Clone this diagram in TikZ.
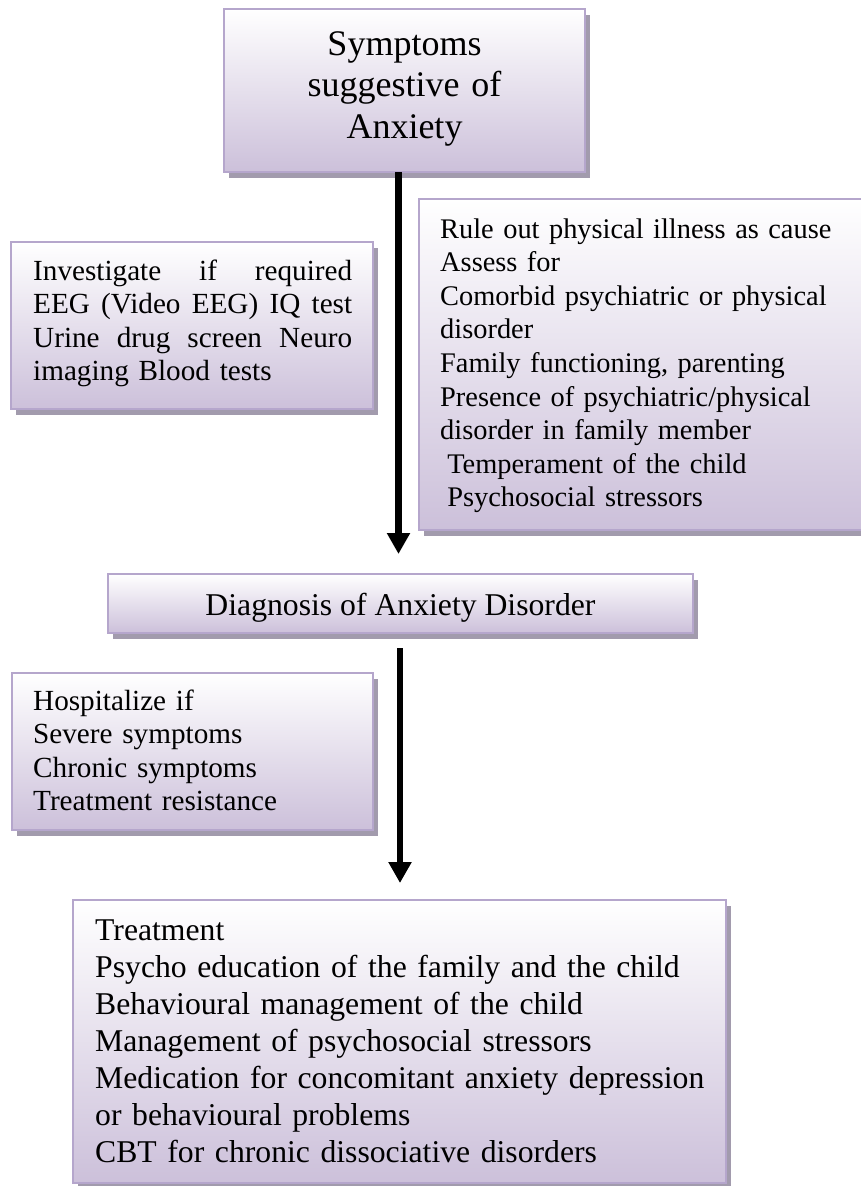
\documentclass[tikz,border=0pt]{standalone}
\usepackage{fontspec}
\setmainfont{Liberation Serif}
\usetikzlibrary{arrows.meta,shadows}
\definecolor{boxline}{HTML}{B5A6CC}
\definecolor{boxbottom}{HTML}{CCC0DA}
\definecolor{boxshadow}{HTML}{A29BAD}
\newcommand{\bodysize}{\fontsize{29.2pt}{33.6pt}\selectfont}
\newcommand{\rulesize}{\fontsize{28.4pt}{33.6pt}\selectfont}
\newcommand{\bigsize}{\fontsize{31.7pt}{37pt}\selectfont}
\newcommand{\titlesize}{\fontsize{36pt}{41.5pt}\selectfont}
\begin{document}
\begin{tikzpicture}[x=1pt,y=-1pt,
  panel/.style={draw=boxline, line width=1.6pt, top color=white, bottom color=boxbottom,
    inner sep=0pt, drop shadow={shadow xshift=5pt, shadow yshift=-6pt, fill=boxshadow, opacity=1}},
  boxtext/.style={inner sep=0pt, anchor=base west, align=left},
  flow/.style={line width=6.5pt, -{Triangle[width=22pt,length=21pt]}}
]
% page frame
\useasboundingbox (0,0) rectangle (861,1186);
\clip (0,0) rectangle (861,1186);
\fill[white] (0,0) rectangle (861,1186);

% panels
\node[panel, minimum width=361pt, minimum height=163pt] (sym) at (404.5,90.5) {};
\node[panel, minimum width=362pt, minimum height=167pt] (inv) at (192,325.5) {};
\node[panel, minimum width=451pt, minimum height=331pt] (rule) at (644.5,364.5) {};
\node[panel, minimum width=585pt, minimum height=59pt] (diag) at (400.5,603.5) {};
\node[panel, minimum width=361pt, minimum height=157pt] (hosp) at (192.5,751.5) {};
\node[panel, minimum width=653pt, minimum height=283pt] (treat) at (399.5,1041.5) {};

% arrows
\coordinate (a1top) at (398.5,172);
\coordinate (a1tip) at (398.5,554);
\coordinate (a2top) at (400,648);
\coordinate (a2tip) at (400,883);
\draw[flow] (a1top) -- (a1tip);
\draw[flow] (a2top) -- (a2tip);

% texts
\node[inner sep=0pt, anchor=base, text width=340pt, align=center, font=\titlesize] (symtext) at (404.5,55)
  {Symptoms\\suggestive of\\Anxiety};
\node[boxtext, text width=319pt, font=\bodysize] (invtext) at (33,280)
  {Investigate\hfill if\hfill required\\
   EEG\hfill (Video\hfill EEG)\hfill IQ\hfill test\\
   Urine\hfill drug\hfill screen\hfill Neuro\\
   imaging Blood tests};
\node[boxtext, text width=415pt, font=\rulesize] (ruletext) at (440,238)
  {Rule out physical illness as cause\\
   Assess for\\
   Comorbid psychiatric or physical\\
   disorder\\
   Family functioning, parenting\\
   Presence of psychiatric/physical\\
   disorder in family member\\
   \hspace*{0.25em}Temperament of the child\\
   \hspace*{0.25em}Psychosocial stressors};
\node[inner sep=0pt, anchor=base, font=\bigsize] (diagtext) at (400.5,615)
  {Diagnosis of Anxiety Disorder};
\node[boxtext, text width=330pt, font=\bodysize] (hosptext) at (33,710)
  {Hospitalize if\\
   Severe symptoms\\
   Chronic symptoms\\
   Treatment resistance};
\node[boxtext, text width=620pt, font=\bigsize] (treattext) at (95,940)
  {Treatment\\
   Psycho education of the family and the child\\
   Behavioural management of the child\\
   Management of psychosocial stressors\\
   Medication for concomitant anxiety depression\\
   or behavioural problems\\
   CBT for chronic dissociative disorders};
\end{tikzpicture}
\end{document}
